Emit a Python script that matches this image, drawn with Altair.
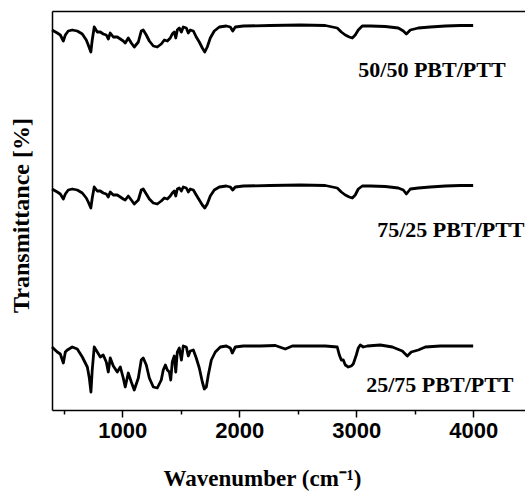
import altair as alt
import pandas as pd

# Wavenumbers (cm^-1) for the 50/50 and 75/25 traces
wn_a = [400, 445, 471, 497, 514, 539, 573, 616, 659, 693, 710, 732, 744, 761, 787, 813, 838, 864, 881, 898,
        924, 958, 984, 1009, 1026, 1052, 1078, 1103, 1138, 1163, 1180, 1206, 1232, 1266, 1300, 1334, 1360, 1386,
        1411, 1428, 1445, 1458, 1471, 1488, 1506, 1522, 1548, 1565, 1582, 1608, 1633, 1659, 1685, 1706, 1727,
        1753, 1787, 1830, 1890, 1924, 1945, 1967, 2035, 2266, 2523, 2736, 2838, 2873, 2907, 2941, 2967, 2992,
        3018, 3052, 3121, 3249, 3360, 3403, 3429, 3463, 3531, 3633, 3762, 3890, 4000]
t_5050 = [380, 377, 375, 369, 375, 379, 380, 379, 376, 370, 365, 358, 370, 383, 378, 378, 376, 375, 371, 377,
          373, 373, 371, 369, 367, 372, 367, 363, 368, 379, 380, 375, 369, 364, 363, 366, 370, 369,
          372, 376, 378, 372, 380, 382, 378, 383, 382, 377, 380, 379, 373, 368, 362, 358, 363,
          372, 379, 383, 384, 383, 379, 383, 384, 384.5, 385, 384.5, 382, 378, 375, 373, 372, 375,
          380, 384, 384, 383.5, 382, 379, 376, 380, 382, 383, 384, 384.5, 384.5]
t_7525 = [221, 218, 216, 211, 216, 220, 221, 220, 217, 212, 208, 202, 212, 223, 219, 219, 217, 216, 213, 218,
          215, 215, 213, 211, 210, 214, 210, 206, 210, 220, 221, 216, 211, 207, 206, 209, 212, 211,
          214, 217, 219, 214, 221, 222, 219, 223, 222, 218, 221, 220, 215, 210, 205, 202, 206,
          214, 220, 223, 224, 223, 220, 223, 224, 224.5, 225, 224.5, 222, 218, 215, 213, 212, 215,
          221, 224, 224, 223.5, 222, 220, 216, 221, 222, 223, 224, 224.5, 224.5]

# Wavenumbers and values for the 25/75 trace
wn_b = [400, 445, 471, 497, 514, 531, 573, 616, 659, 702, 719, 733, 744, 761, 787, 813, 838, 864, 881, 898,
        924, 958, 984, 1009, 1026, 1052, 1078, 1103, 1138, 1163, 1180, 1206, 1232, 1266, 1300, 1334, 1351,
        1369, 1386, 1403, 1415, 1428, 1445, 1458, 1471, 1488, 1506, 1522, 1548, 1565, 1582, 1608, 1633,
        1659, 1685, 1702, 1719, 1736, 1762, 1796, 1839, 1890, 1924, 1941, 1967, 2035, 2180, 2309, 2394,
        2454, 2608, 2736, 2838, 2856, 2873, 2890, 2907, 2933, 2958, 2975, 3001, 3018, 3035, 3061, 3095,
        3206, 3309, 3394, 3437, 3471, 3531, 3591, 3719, 3847, 4000]
t_2575 = [63, 58, 56, 47, 58, 60, 63, 61, 53, 43, 32, 18, 40, 63, 58, 53, 55, 48, 38, 52,
          44, 38, 43, 32, 23, 37, 28, 20, 32, 50, 52, 45, 32, 23, 22, 30, 40,
          45, 40, 38, 30, 48, 54, 38, 58, 62, 50, 64, 63, 54, 59, 60, 52,
          42, 28, 21, 23, 35, 50, 58, 63, 64, 62, 57, 63, 64, 64, 64.5, 61,
          64, 64, 64, 63, 55, 50, 50, 45, 43, 44, 46, 55, 62, 65, 63, 64,
          65, 63, 59, 54, 58, 60, 63, 64, 64, 64]

labels = ["50/50 PBT/PTT", "75/25 PBT/PTT", "25/75 PBT/PTT"]
label_x = [3018, 3180, 3086]
label_y = [340, 180, 25]

rows = []
for w, t in zip(wn_a, t_5050):
    rows.append({"wn": w, "t": t, "s": labels[0]})
for w, t in zip(wn_a, t_7525):
    rows.append({"wn": w, "t": t, "s": labels[1]})
for w, t in zip(wn_b, t_2575):
    rows.append({"wn": w, "t": t, "s": labels[2]})
df = pd.DataFrame(rows)
lab = pd.DataFrame({"x": label_x, "y": label_y, "text": labels})

xscale = alt.Scale(domain=[400, 4443], nice=False, zero=False)
yscale = alt.Scale(domain=[0, 399], nice=False, zero=False)

yaxis = alt.Axis(labels=False, ticks=False, grid=False, domainColor="black", domainWidth=1.5,
                 title="Transmittance [%]", titleFont="Liberation Serif", titleFontWeight="bold",
                 titleFontSize=24, titleColor="black", titleAngle=-90, titleX=-24, titleY=204,
                 titleAlign="center", titleBaseline="alphabetic")

lines = alt.Chart(df).mark_line(color="black", strokeWidth=2.8, strokeJoin="round").encode(
    x=alt.X("wn:Q", scale=xscale,
            axis=alt.Axis(values=[500, 1000, 1500, 2000, 2500, 3000, 3500, 4000],
                          labelExpr="datum.value % 1000 == 0 ? datum.label : ''",
                          format="d", grid=False, domainColor="black", domainWidth=1.5,
                          tickColor="black", tickWidth=1.5,
                          tickSize={"condition": {"test": "datum.value % 1000 == 0", "value": 7}, "value": 4},
                          labelFont="Liberation Sans", labelFontWeight="bold", labelFontSize=22,
                          labelColor="black", labelPadding=3,
                          title="Wavenumber (cm⁻¹)", titleFont="Liberation Serif", titleFontWeight="bold",
                          titleFontSize=23, titleColor="black", titleX=210, titleY=75,
                          titleAlign="center", titleBaseline="alphabetic")),
    y=alt.Y("t:Q", scale=yscale, axis=yaxis),
    detail="s:N",
    order="wn:Q",
)

texts = alt.Chart(lab).mark_text(font="Liberation Serif", fontWeight="bold", fontSize=22,
                                 align="left", baseline="middle", color="black").encode(
    x=alt.X("x:Q", scale=xscale,
            axis=alt.Axis(orient="top", labels=False, ticks=False, grid=False, title=None,
                          domainColor="black", domainWidth=1.5)),
    y=alt.Y("y:Q", scale=yscale, axis=yaxis),
    text="text:N",
)

chart = alt.layer(lines, texts).resolve_axis(x="independent").properties(
    width=473, height=399,
    autosize=alt.AutoSizeParams(type="none"),
    padding={"left": 52, "top": 11, "right": 0, "bottom": 81},
    background="white",
).configure_view(stroke=None)

chart.save("out.html", embed_options={"renderer": "svg", "actions": False})
